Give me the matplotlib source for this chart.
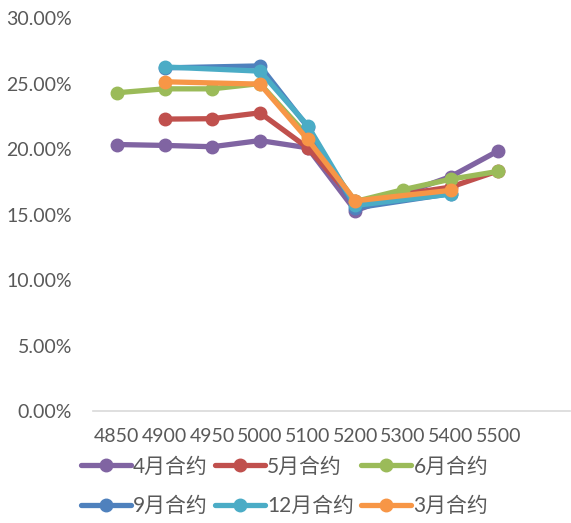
import matplotlib.pyplot as plt
import matplotlib.ticker as ticker
import numpy as np

plt.rcParams['font.family'] = ['Lato', 'Noto Sans CJK SC', 'DejaVu Sans']

strikes = ['4850', '4900', '4950', '5000', '5100', '5200', '5300', '5400', '5500']
nan = np.nan

# implied volatility by contract month (fraction), gaps where no quote
s_apr = [0.2035, 0.2028, 0.2018, 0.2065, 0.2010, 0.1530, nan, 0.1790, 0.1987]
s_may = [nan, 0.2229, 0.2232, 0.2277, 0.2010, 0.1600, nan, 0.1710, 0.1834]
s_jun = [0.2430, 0.2460, 0.2460, 0.2500, 0.2100, 0.1600, 0.1690, 0.1770, 0.1830]
s_sep = [nan, 0.2620, nan, 0.2635, 0.2170, 0.1550, nan, 0.1660, nan]
s_dec = [nan, 0.2627, nan, 0.2595, 0.2180, 0.1570, nan, 0.1656, nan]
s_mar = [nan, 0.2514, nan, 0.2496, 0.2075, 0.1605, nan, 0.1685, nan]

series = [
    ('4月合约', s_apr, '#8064A2'),
    ('5月合约', s_may, '#C0504D'),
    ('6月合约', s_jun, '#9BBB59'),
    ('9月合约', s_sep, '#4F81BD'),
    ('12月合约', s_dec, '#4BACC6'),
    ('3月合约', s_mar, '#F79646'),
]

fig = plt.figure(figsize=(5.71, 5.23), dpi=100)
ax = fig.add_axes([0.163, 0.214, 0.835, 0.7514])

x = np.arange(len(strikes))
lines = []
for name, vals, col in series:
    v = np.array(vals, dtype=float)
    ok = ~np.isnan(v)
    ln, = ax.plot(x[ok], v[ok], color=col, lw=3.8, marker='o', ms=9,
                  solid_capstyle='round', label=name)
    lines.append(ln)

ax.set_xlim(-0.5, 9.5)
ax.set_ylim(0, 0.30)
ax.set_xticks(x)
ax.set_xticklabels(strikes)
ax.yaxis.set_major_locator(ticker.MultipleLocator(0.05))
ax.yaxis.set_major_formatter(ticker.FuncFormatter(lambda v, p: '%.2f%%' % (v * 100)))

for s in ['top', 'right', 'left']:
    ax.spines[s].set_visible(False)
ax.spines['bottom'].set_color('#D9D9D9')
ax.spines['bottom'].set_linewidth(1.2)
ax.tick_params(axis='both', length=0, colors='#595959', labelsize=14)
ax.tick_params(axis='y', pad=15)
ax.tick_params(axis='x', pad=12)

# legend fills column by column, so reorder to read row by row
order = [0, 3, 1, 4, 2, 5]
leg = fig.legend([lines[i] for i in order], [series[i][0] for i in order],
                 loc='upper left', bbox_to_anchor=(0.142, 0.127), ncol=3,
                 frameon=False, fontsize=15, handlelength=2.4,
                 handletextpad=0.1, columnspacing=0.35, labelspacing=0.95,
                 borderaxespad=0, borderpad=0)
for t in leg.get_texts():
    t.set_color('#595959')

fig.savefig('out.png', dpi=100)
